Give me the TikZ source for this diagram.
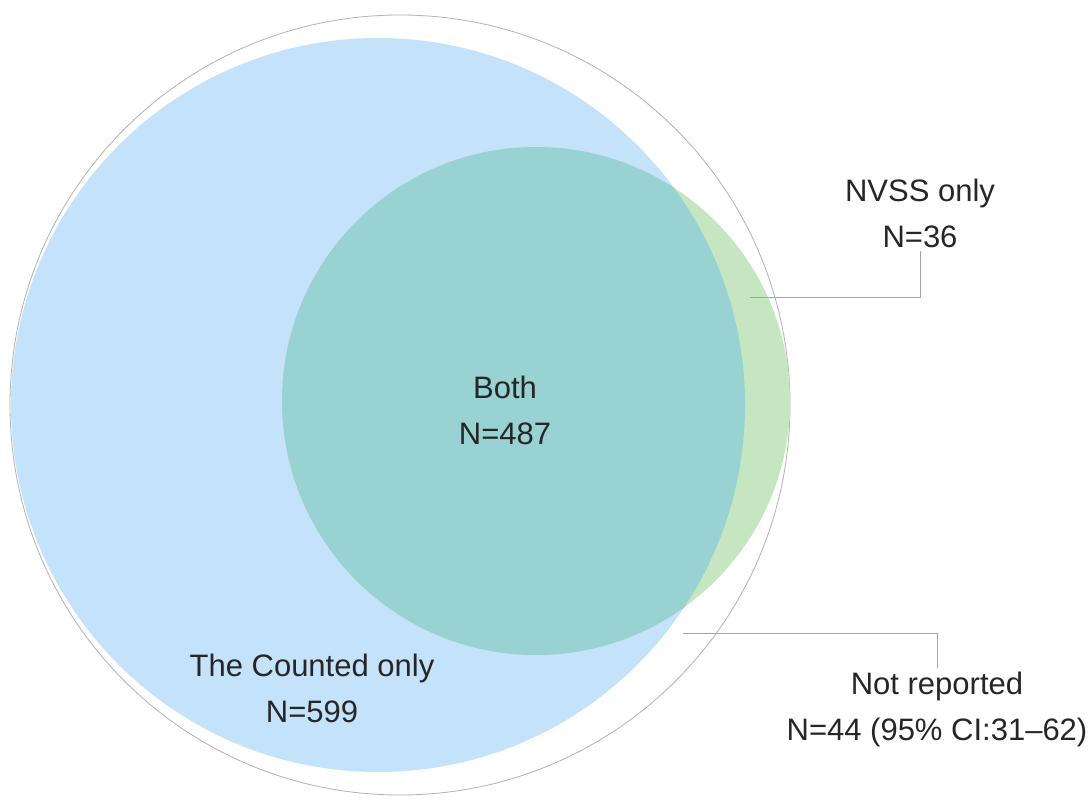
\documentclass[tikz,border=0pt]{standalone}
\usepackage{fontspec}
\setmainfont{Liberation Sans}
\definecolor{cblue}{HTML}{C4E2FA}
\definecolor{cgreen}{HTML}{C6E6C1}
\definecolor{cteal}{HTML}{98D2D2}
\begin{document}
\begin{tikzpicture}[x=1pt,y=-1pt,
  lab/.style={font=\fontsize{31}{46}\selectfont,align=center,text=black!85},
  lead/.style={draw=gray!70,line width=0.8pt}]
\useasboundingbox (0,0) rectangle (1092,800);
\fill[white] (0,0) rectangle (1092,800);
\node[draw=gray!60,line width=0.8pt,circle,minimum size=780pt,inner sep=0] (outer) at (400,405) {};
\node[fill=cblue,circle,minimum size=734pt,inner sep=0] (blue) at (378,405) {};
\node[fill=cgreen,circle,minimum size=508pt,inner sep=0] (green) at (536,401) {};
\begin{scope}
\clip (378,405) circle (367);
\fill[cteal] (536,401) circle (254);
\end{scope}
\node[lab] (both) at (505,410) {Both\\N=487};
\node[lab] (counted) at (312,688) {The Counted only\\N=599};
\node[lab] (nvss) at (920,213) {NVSS only\\N=36};
\node[lab] (notrep) at (937,709) {Not reported\\N=44 (95\% CI:31–62)};
\coordinate (a1) at (750,297);
\coordinate (a2) at (920,297);
\coordinate (b1) at (683,633);
\coordinate (b2) at (937,633);
\draw[lead] (a1) -- (a2) -- (a2 |- nvss.south);
\draw[lead] (b1) -- (b2) -- (b2 |- notrep.north);
\end{tikzpicture}
\end{document}
